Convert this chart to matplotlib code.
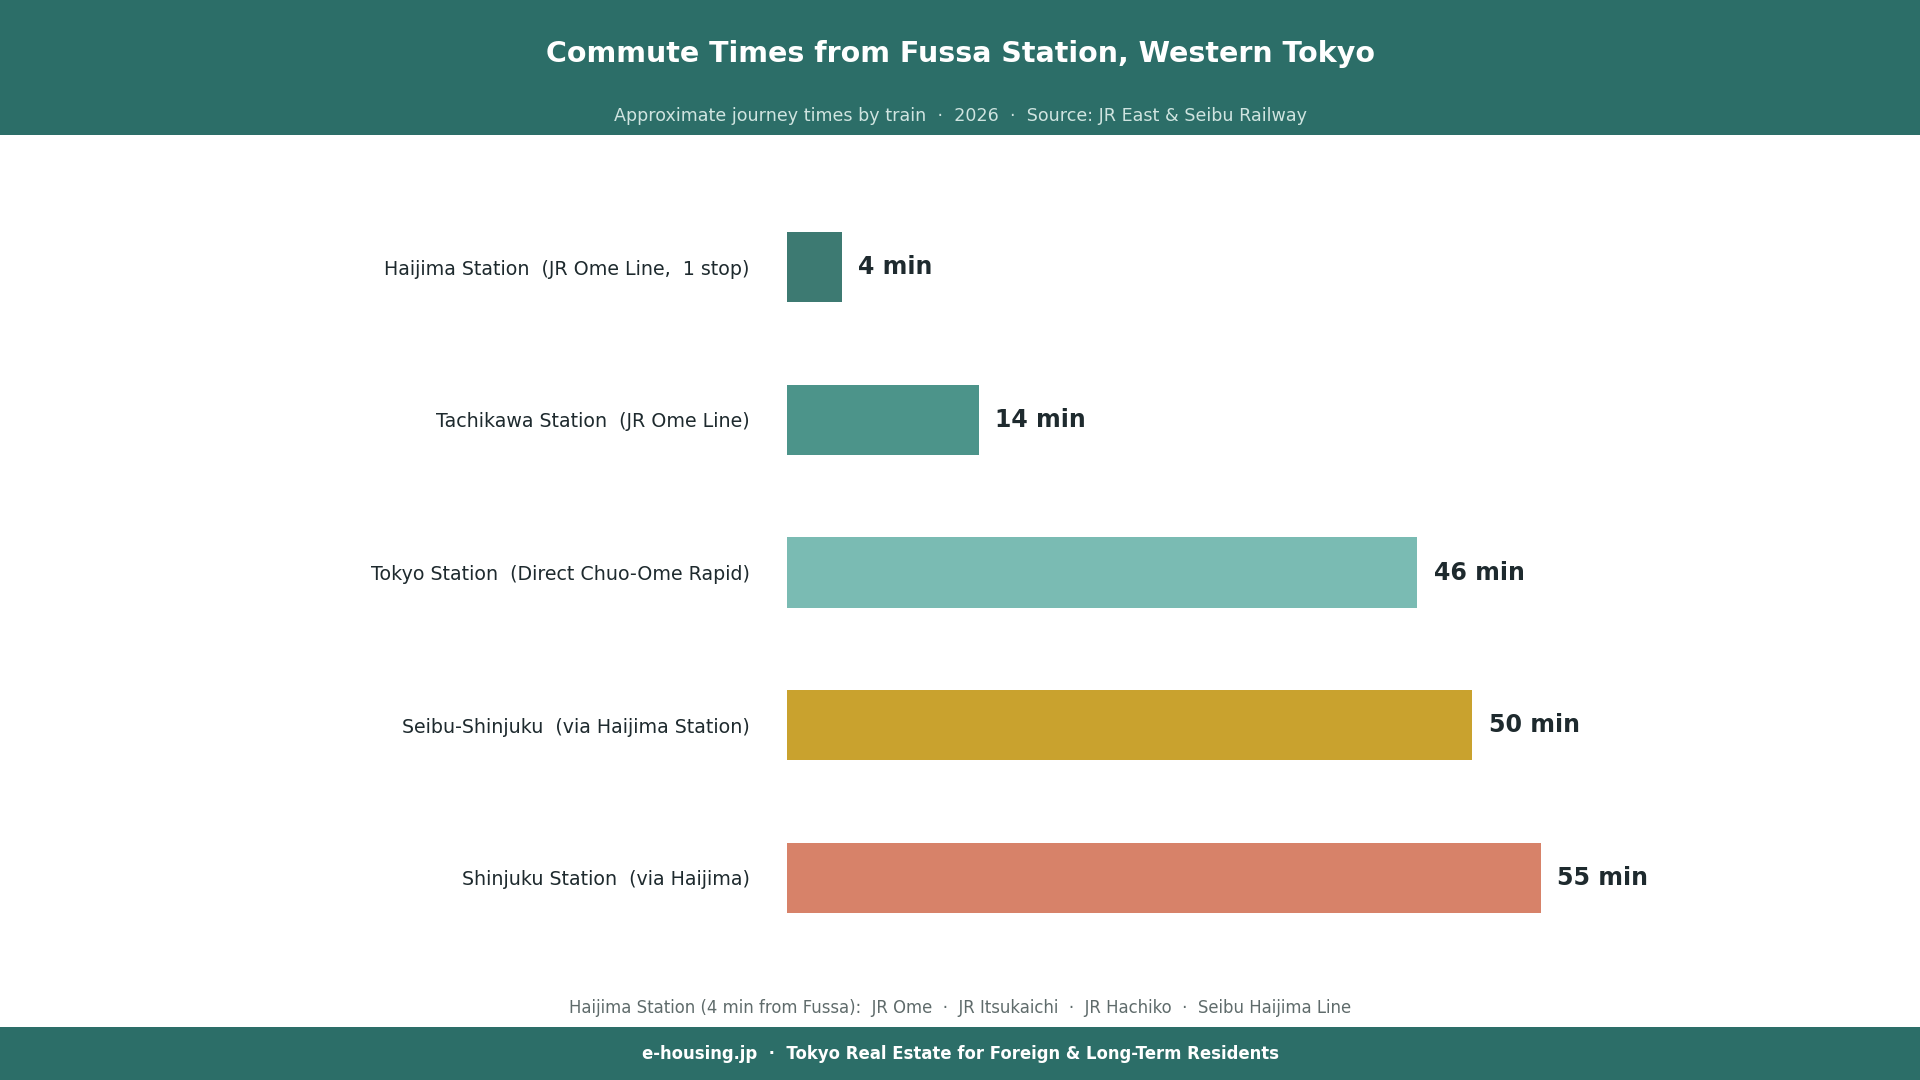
import matplotlib
matplotlib.use("Agg")
from matplotlib import pyplot as plt
from matplotlib.patches import Rectangle

# data
stations = [
    "Haijima Station  (JR Ome Line,  1 stop)",
    "Tachikawa Station  (JR Ome Line)",
    "Tokyo Station  (Direct Chuo-Ome Rapid)",
    "Seibu-Shinjuku  (via Haijima Station)",
    "Shinjuku Station  (via Haijima)",
]
minutes = [4, 14, 46, 50, 55]
bar_colors = ["#3d7a72", "#4c948a", "#7abbb3", "#c9a22e", "#d78269"]

title = "Commute Times from Fussa Station, Western Tokyo"
subtitle = "Approximate journey times by train  \u00b7  2026  \u00b7  Source: JR East & Seibu Railway"
note = ("Haijima Station (4 min from Fussa):  JR Ome  \u00b7  JR Itsukaichi  \u00b7  "
        "JR Hachiko  \u00b7  Seibu Haijima Line")
footer = "e-housing.jp  \u00b7  Tokyo Real Estate for Foreign & Long-Term Residents"

header_col = "#2c6e68"
text_col = "#1e2a2e"

fig = plt.figure(figsize=(19.2, 10.8), dpi=100)
fig.patch.set_facecolor("white")

# header and footer bands
fig.add_artist(Rectangle((0, 1 - 135 / 1080), 1, 135 / 1080, transform=fig.transFigure,
                         facecolor=header_col, edgecolor="none", zorder=0))
fig.add_artist(Rectangle((0, 0), 1, 53 / 1080, transform=fig.transFigure,
                         facecolor=header_col, edgecolor="none", zorder=0))

fig.text(0.5, 1 - 54 / 1080, title, ha="center", va="center", color="white",
         fontsize=20.5, fontweight="bold")
fig.text(0.5, 1 - 116 / 1080, subtitle, ha="center", va="center", color="#cfe4e0",
         fontsize=12.6)
fig.text(0.5, 1 - 1008 / 1080, note, ha="center", va="center", color="#5f6b6b",
         fontsize=11.9)
fig.text(0.5, 1 - 1054 / 1080, footer, ha="center", va="center", color="white",
         fontsize=11.9, fontweight="bold")

# axes: bar centres at y=266..877 px, 152.6 px per row
row = 152.6
top_px = 267 - 0.75 * row
bot_px = 878 + 0.75 * row
ax = fig.add_axes([787 / 1920, 1 - bot_px / 1080, 980 / 1920, (bot_px - top_px) / 1080])
ypos = list(range(len(stations)))
ax.barh(ypos, minutes, height=0.46, color=bar_colors)
ax.set_xlim(0, max(minutes) * 1.3)
ax.set_ylim(len(stations) - 0.25, -0.75)

for y, v in zip(ypos, minutes):
    ax.text(v + 1.2, y, f"{v} min", va="center", ha="left", fontsize=17,
            fontweight="bold", color=text_col)

ax.set_yticks(ypos)
ax.set_yticklabels(stations, fontsize=13.7, color=text_col)
ax.tick_params(axis="y", length=0, pad=27)
ax.set_xticks([])
for s in ax.spines.values():
    s.set_visible(False)

fig.savefig("out.png", dpi=100, facecolor=fig.get_facecolor())
